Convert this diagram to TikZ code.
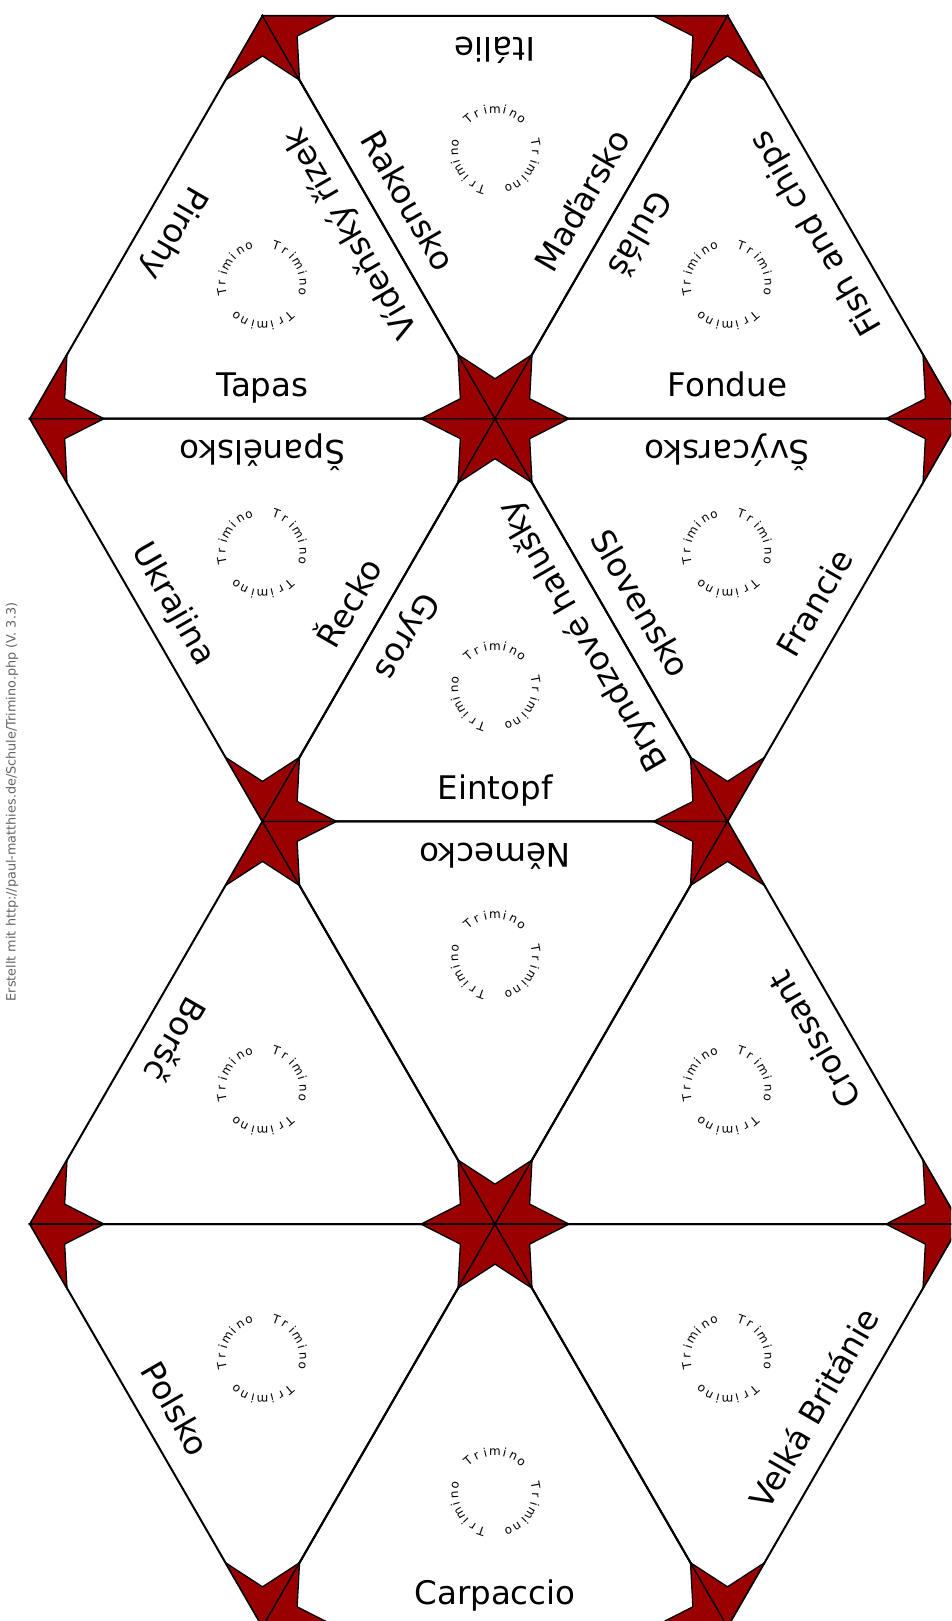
\documentclass[tikz,border=0pt]{standalone}
\usepackage{fontspec}
\setmainfont{DejaVu Sans}
\usetikzlibrary{calc}
\definecolor{starred}{RGB}{153,0,0}
\definecolor{notegray}{RGB}{100,100,100}
\tikzset{
  edge/.style={line width=2pt, line join=miter},
  corner/.style={fill=starred, draw=black, line width=1.3pt, line join=miter},
  lbl/.style={font=\fontsize{32.5}{38}\selectfont, inner sep=0pt, anchor=base},
  logoch/.style={font=\fontsize{12}{14}\selectfont, inner sep=0pt, anchor=base},
  note/.style={font=\fontsize{12.8}{15}\selectfont, text=notegray, inner sep=0pt}
}
\newcommand\tricorner[3]{%
  \coordinate (cm) at ($(#2)!0.5!(#3)$);
  \draw[corner] (#1) -- ($(#1)!74pt!(#2)$) -- ($(#1)!40pt!(cm)$) -- ($(#1)!74pt!(#3)$) -- cycle;}
\newcommand\elabel[6]{%
  \node[lbl, rotate=#5] (#1) at ($(#2)!0.5!(#3)!22pt!(#4)$) {#6};}
\newcommand\trilogo[4]{%
  \foreach \w in {0,120,240}{%
    \foreach \ch [count=\i] in {T,r,i,m,i,n,o}{%
      \pgfmathsetmacro\ang{#4+\w+(4-\i)*13.5}%
      \node[logoch, rotate=\ang-90] (#1-\w-\i) at ($(#2,#3)+(\ang:37)$) {\ch};
    }}}
\begin{document}
\begin{tikzpicture}[x=1pt,y=1pt]
\useasboundingbox (0,0) rectangle (951,-1621);
\clip (0,0) rectangle (951,-1621);
\fill[white] (0,0) rectangle (951,-1621);
% vertices
\coordinate (A0) at (262.5,-16);    \coordinate (B0) at (727.5,-16);
\coordinate (A1) at (30,-418.7);    \coordinate (B1) at (495,-418.7);   \coordinate (C1) at (960,-418.7);
\coordinate (A2) at (262.5,-821.4); \coordinate (B2) at (727.5,-821.4);
\coordinate (A3) at (30,-1224.1);   \coordinate (B3) at (495,-1224.1);  \coordinate (C3) at (960,-1224.1);
\coordinate (A4) at (262.5,-1626.8);\coordinate (B4) at (727.5,-1626.8);
% triangles
\foreach \p/\q/\r in {A1/A0/B1, A0/B0/B1, B1/B0/C1, A1/B1/A2, A2/B1/B2, B1/C1/B2,
                      A3/A2/B3, A2/B2/B3, B3/B2/C3, A3/B3/A4, A4/B3/B4, B3/C3/B4}{
  \draw[edge] (\p) -- (\q) -- (\r) -- cycle;
}
% red corners
\foreach \p/\q/\r in {A1/A0/B1, A0/B0/B1, B1/B0/C1, A1/B1/A2, A2/B1/B2, B1/C1/B2,
                      A3/A2/B3, A2/B2/B3, B3/B2/C3, A3/B3/A4, A4/B3/B4, B3/C3/B4}{
  \tricorner{\p}{\q}{\r}\tricorner{\q}{\r}{\p}\tricorner{\r}{\p}{\q}
}
% edge labels
\elabel{tapas}{A1}{B1}{A0}{0}{Tapas}
\elabel{pirohy}{A1}{A0}{B1}{-120}{Pirohy}
\elabel{videnk}{A0}{B1}{A1}{120}{Vídeňský řízek}
\elabel{italie}{A0}{B0}{B1}{180}{Itálie}
\elabel{rakousko}{A0}{B1}{B0}{-60}{Rakousko}
\elabel{madarsko}{B0}{B1}{A0}{60}{Maďarsko}
\elabel{gulas}{B1}{B0}{C1}{-120}{Guláš}
\elabel{fish}{B0}{C1}{B1}{120}{Fish and chips}
\elabel{fondue}{B1}{C1}{B0}{0}{Fondue}
\elabel{spanelsko}{A1}{B1}{A2}{180}{Španělsko}
\elabel{ukrajina}{A1}{A2}{B1}{-60}{Ukrajina}
\elabel{recko}{B1}{A2}{A1}{60}{Řecko}
\elabel{gyros}{A2}{B1}{B2}{-120}{Gyros}
\elabel{bryndzove}{B1}{B2}{A2}{120}{Bryndzové halušky}
\elabel{eintopf}{A2}{B2}{B1}{0}{Eintopf}
\elabel{svycarsko}{B1}{C1}{B2}{180}{Švýcarsko}
\elabel{slovensko}{B1}{B2}{C1}{-60}{Slovensko}
\elabel{francie}{C1}{B2}{B1}{60}{Francie}
\elabel{borsc}{A3}{A2}{B3}{-120}{Boršč}
\elabel{nemecko}{A2}{B2}{B3}{180}{Německo}
\elabel{croissant}{B2}{C3}{B3}{120}{Croissant}
\elabel{polsko}{A3}{A4}{B3}{-60}{Polsko}
\elabel{carpaccio}{A4}{B4}{B3}{0}{Carpaccio}
\elabel{velka}{C3}{B4}{B3}{60}{Velká Británie}
% Trimino logos
\trilogo{lgA}{262.5}{-284.5}{270}
\trilogo{lgB}{495}{-150.2}{90}
\trilogo{lgC}{727.5}{-284.5}{270}
\trilogo{lgD}{262.5}{-552.9}{270}
\trilogo{lgE}{495}{-687.2}{90}
\trilogo{lgF}{727.5}{-552.9}{270}
\trilogo{lgG}{262.5}{-1089.9}{270}
\trilogo{lgH}{495}{-955.6}{90}
\trilogo{lgI}{727.5}{-1089.9}{270}
\trilogo{lgJ}{262.5}{-1358.3}{270}
\trilogo{lgK}{495}{-1492.6}{90}
\trilogo{lgL}{727.5}{-1358.3}{270}
% credit line
\node[note, rotate=90] (credit) at (12,-802) {Erstellt mit http://paul-matthies.de/Schule/Trimino.php (V. 3.3)};
\end{tikzpicture}
\end{document}
